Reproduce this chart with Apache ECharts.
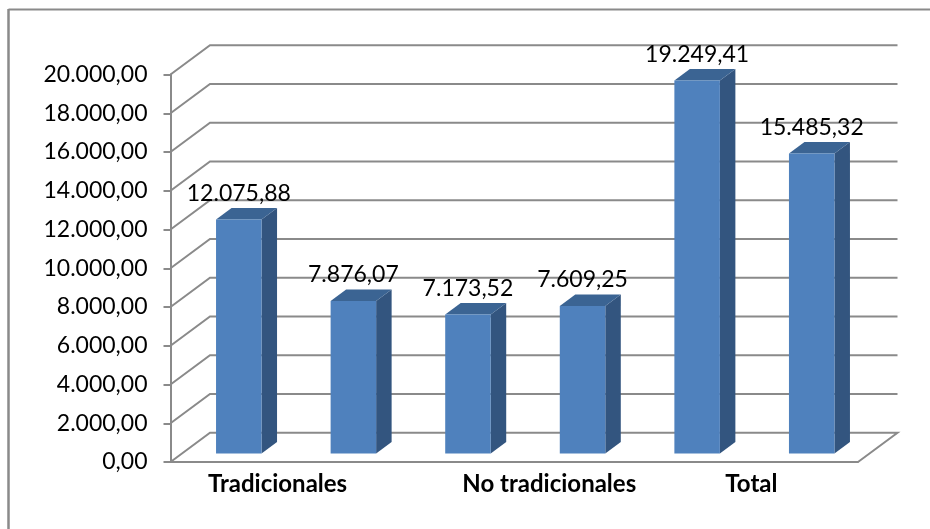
<!DOCTYPE html>
<html><head><meta charset="utf-8">
<style>html,body{margin:0;padding:0;background:#fff}#c{width:930px;height:529px}</style>
<script src="https://cdn.jsdelivr.net/npm/echarts@6/dist/echarts.min.js"></script>
</head><body><div id="c"></div>
<script>
const categories = ['Tradicionales', 'No tradicionales', 'Total'];
const seriesA = [12075.88, 7173.52, 19249.41];
const seriesB = [7876.07, 7609.25, 15485.32];
const yTicks = [0,2000,4000,6000,8000,10000,12000,14000,16000,18000,20000];

const fmt = v => v.toFixed(2).replace('.', ',').replace(/\B(?=(\d{3})(?!\d))/g, '.');
const FONT = 'Lato';
const FS = 23;
const DX = 39.5, DY = 29.3;       // wall depth
const BDX = 15.5, BDY = 11.5;     // bar depth
const GAPX = 11, GAPY = 8.5;      // bar offset from front
const BW = 45.5;
const GRAY = '#8a8a8a';
const chart = echarts.init(document.getElementById('c'), null, {renderer:'canvas'});

function barSeries(vals, sign, name) {
  return {
    type: 'custom', name, z: 5,
    data: vals.map((v,i)=>[i,v]),
    clip: false,
    renderItem(params, api) {
      const band = api.size([1,0])[0];
      const base = api.coord([api.value(0), 0]);
      const top = api.coord([api.value(0), api.value(1)]);
      const x0 = base[0] + sign*band/4 + GAPX - BW/2, x1 = x0 + BW;
      const yb = base[1] - GAPY, yt = top[1] - GAPY;
      return {type:'group', children:[
        {type:'polygon', shape:{points:[[x1,yt],[x1+BDX,yt-BDY],[x1+BDX,yb-BDY],[x1,yb]]}, style:{fill:'#33557f'}},
        {type:'polygon', shape:{points:[[x0,yt],[x0+BDX,yt-BDY],[x1+BDX,yt-BDY],[x1,yt]]}, style:{fill:'#3b6493'}},
        {type:'rect', shape:{x:x0,y:yt,width:BW,height:yb-yt}, style:{fill:'#4f81bd'}},
        {type:'text', style:{text:fmt(api.value(1)), x:(x0+x1)/2, y:yt-26, align:'center', verticalAlign:'middle', font:FS+'px '+FONT, fill:'#000'}}
      ]};
    }
  };
}

chart.setOption({
  animation:false,
  graphic:[
    {type:'line', shape:{x1:8.5,y1:9.5,x2:930,y2:9.5}, style:{stroke:'#8a8a8a',lineWidth:2}, silent:true},
    {type:'line', shape:{x1:8.5,y1:9,x2:8.5,y2:529}, style:{stroke:'#8a8a8a',lineWidth:2.5}, silent:true}
  ],
  grid:{left:170.5,right:72,top:74.5,bottom:67,containLabel:false},
  xAxis:{type:'category',
    data:[
      {value:categories[0], textStyle:{padding:[0,15,0,0]}},
      {value:categories[1], textStyle:{padding:[0,0,0,70]}},
      {value:categories[2], textStyle:{padding:[0,0,0,16]}}
    ],
    axisLine:{lineStyle:{color:GRAY,width:2}}, axisTick:{show:false},
    axisLabel:{margin:10,fontFamily:FONT,fontWeight:'bold',fontSize:24,color:'#000',interval:0}},
  yAxis:{type:'value',min:0,max:20000,interval:2000,
    axisLine:{show:true,lineStyle:{color:GRAY,width:2}},
    axisTick:{show:true,length:7,lineStyle:{color:GRAY,width:2}},
    splitLine:{show:false},
    axisLabel:{margin:23,padding:[4,0,0,0],fontFamily:FONT,fontSize:FS,color:'#000',formatter:v=>fmt(v)}},
  series:[
    {type:'custom',name:'walls',z:1,clip:false,silent:true,
     data:yTicks.map(v=>[0,v]),
     renderItem(params,api){
       const cs=params.coordSys, y=api.coord([0,api.value(1)])[1], xl=cs.x, xr=cs.x+cs.width;
       const pts=[[xl,y],[xl+DX,y-DY],[xr+DX,y-DY]];
       if(api.value(1)===0) pts.push([xr,y]);
       return {type:'polyline',shape:{points:pts},style:{fill:'none',stroke:GRAY,lineWidth:2}};
     }},
    barSeries(seriesA,-1,'A'),
    barSeries(seriesB,1,'B')
  ]
});
</script></body></html>
